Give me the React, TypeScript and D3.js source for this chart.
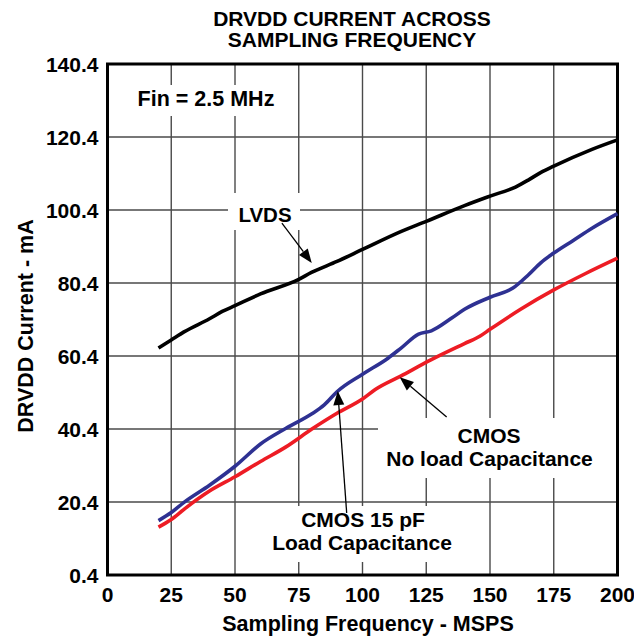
import React from "react";
import * as d3 from "d3";

const titleLines = ["DRVDD CURRENT ACROSS", "SAMPLING FREQUENCY"];
const xTicks = [0, 25, 50, 75, 100, 125, 150, 175, 200];
const yTicks = [0.4, 20.4, 40.4, 60.4, 80.4, 100.4, 120.4, 140.4];
const xLabel = "Sampling Frequency - MSPS";
const yLabel = "DRVDD Current - mA";

const lvds: [number, number][] = [
  [20, 62.6], [25, 64.8], [30, 67.0], [40, 70.6], [45, 72.6], [50, 74.2], [60, 77.4],
  [75, 81.4], [80, 83.3], [90, 86.3], [100, 89.6], [115, 94.5], [125, 97.3], [140, 101.6],
  [150, 104.2], [160, 106.7], [165, 108.6], [170, 110.7], [175, 112.4], [190, 117.0], [200, 119.6],
];
const cmos15: [number, number][] = [
  [20, 15.3], [25, 17.5], [30, 20.3], [40, 25.0], [50, 30.2], [60, 36.3], [70, 40.6],
  [80, 44.5], [85, 47.0], [90, 50.6], [100, 55.4], [110, 59.8], [115, 62.5], [122, 66.4],
  [127, 67.3], [135, 70.8], [140, 73.2], [150, 76.5], [159, 79.0], [165, 82.6], [170, 86.0],
  [175, 88.6], [182.5, 92.0], [190, 95.4], [200, 99.4],
];
const cmosNoLoad: [number, number][] = [
  [20, 13.5], [25, 15.6], [30, 18.4], [40, 23.4], [50, 27.3], [60, 31.5], [70, 35.5],
  [80, 40.3], [90, 44.7], [100, 48.6], [105, 51.2], [115, 54.9], [127, 59.4], [140, 63.8],
  [146, 65.8], [150, 67.7], [162, 73.2], [175, 78.5], [187.5, 83.0], [200, 87.2],
];

const series = [
  { name: "LVDS", data: lvds, color: "#000000" },
  { name: "CMOS 15 pF", data: cmos15, color: "#2e3192" },
  { name: "CMOS No load", data: cmosNoLoad, color: "#ed1c24" },
];

const W = 634;
const H = 638;
const L = 107.5, R = 617.5, T = 64, B = 575;

export default function App() {
  const x = d3.scaleLinear().domain([0, 200]).range([L, R]);
  const y = d3.scaleLinear().domain([0.4, 140.4]).range([B, T]);
  const line = d3
    .line<[number, number]>()
    .x((d) => x(d[0]))
    .y((d) => y(d[1]))
    .curve(d3.curveMonotoneX);

  const font = "'Liberation Sans', Arial, Helvetica, sans-serif";

  const arrow = (sx: number, sy: number, tx: number, ty: number, key: string) => {
    const x1 = x(sx), y1 = y(sy), x2 = x(tx), y2 = y(ty);
    const ang = Math.atan2(y2 - y1, x2 - x1);
    const len = 14, hw = 5.5;
    const bx = x2 - len * Math.cos(ang), by = y2 - len * Math.sin(ang);
    const px = -Math.sin(ang) * hw, py = Math.cos(ang) * hw;
    return (
      <g key={key}>
        <line x1={x1} y1={y1} x2={bx} y2={by} stroke="#000" strokeWidth={1.3} />
        <polygon
          points={`${x2},${y2} ${bx + px},${by + py} ${bx - px},${by - py}`}
          fill="#000"
        />
      </g>
    );
  };

  return (
    <svg
      width={W}
      height={H}
      style={{ position: "absolute", left: 0, top: 0, background: "#fff" }}
      fontFamily={font}
      fontWeight="bold"
    >
      <rect x={0} y={0} width={W} height={H} fill="#fff" />
      {/* Title */}
      {titleLines.map((t, i) => (
        <text key={t} x={352} y={26 + i * 21} textAnchor="middle" fontSize={21} fill="#000">
          {t}
        </text>
      ))}
      {/* Grid */}
      {xTicks.slice(1, -1).map((t) => (
        <line key={"gx" + t} x1={x(t)} x2={x(t)} y1={T} y2={B} stroke="#4a4a4a" strokeWidth={1.4} />
      ))}
      {yTicks.slice(1, -1).map((t) => (
        <line key={"gy" + t} x1={L} x2={R} y1={y(t)} y2={y(t)} stroke="#4a4a4a" strokeWidth={1.4} />
      ))}
      {/* White label boxes */}
      <rect x={130} y={85} width={152} height={31} fill="#fff" />
      <rect x={228} y={193} width={72} height={37} fill="#fff" />
      <rect x={378} y={418} width={239} height={60} fill="#fff" />
      <rect x={265} y={506} width={195} height={56} fill="#fff" />
      {/* Frame */}
      <rect x={L} y={T} width={R - L} height={B - T} fill="none" stroke="#000" strokeWidth={3} />
      {/* Series */}
      {series.map((s) => (
        <path
          key={s.name}
          d={line(s.data) || ""}
          fill="none"
          stroke={s.color}
          strokeWidth={3.6}
          strokeLinejoin="round"
        />
      ))}
      {/* Arrows */}
      {arrow(68.4, 96.8, 80.1, 85.9, "a1")}
      {arrow(133, 43.7, 114.6, 54.6, "a2")}
      {arrow(93.8, 17.4, 90.3, 50.8, "a3")}
      {/* Annotations */}
      <text x={206} y={106} textAnchor="middle" fontSize={21.5}>Fin = 2.5 MHz</text>
      <text x={265} y={222} textAnchor="middle" fontSize={20.5}>LVDS</text>
      <text x={489} y={443} textAnchor="middle" fontSize={21}>CMOS</text>
      <text x={489.5} y={466} textAnchor="middle" fontSize={21}>No load Capacitance</text>
      <text x={363} y={527} textAnchor="middle" fontSize={21}>CMOS 15 pF</text>
      <text x={362} y={549.5} textAnchor="middle" fontSize={21}>Load Capacitance</text>
      {/* Y tick labels */}
      {yTicks.map((t) => (
        <text key={"yl" + t} x={98.5} y={y(t) + 7.5} textAnchor="end" fontSize={21}>
          {t.toFixed(1)}
        </text>
      ))}
      {/* X tick labels */}
      {xTicks.map((t) => (
        <text key={"xl" + t} x={x(t)} y={602} textAnchor="middle" fontSize={21}>
          {t}
        </text>
      ))}
      <text x={368} y={631} textAnchor="middle" fontSize={21.5}>{xLabel}</text>
      <text
        transform={`translate(33, 326) rotate(-90)`}
        textAnchor="middle"
        fontSize={21.5}
      >
        {yLabel}
      </text>
    </svg>
  );
}
